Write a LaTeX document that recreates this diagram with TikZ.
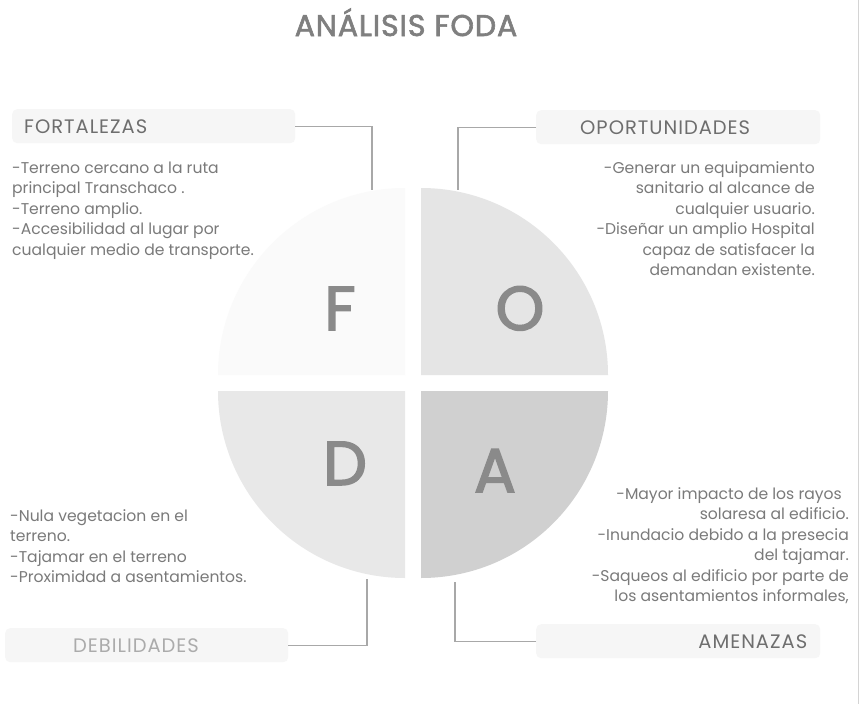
\documentclass[tikz,border=0pt]{standalone}
\usepackage{fontspec}
\setmainfont{Poppins}
\newfontfamily\heavyfont{Poppins}[FakeBold=2.5]
\newfontfamily\titlefont{Poppins}[FakeBold=2, LetterSpace=3]
\newfontfamily\labelfont{Poppins}[LetterSpace=5]
\definecolor{txt}{HTML}{7A7A7A}
\definecolor{lbl}{HTML}{6E6E6E}
\definecolor{lblpale}{HTML}{ABABAB}
\definecolor{ttl}{HTML}{7F7F7F}
\definecolor{let}{HTML}{8A8A8A}
\definecolor{qF}{HTML}{FAFAFA}
\definecolor{qO}{HTML}{E5E5E5}
\definecolor{qD}{HTML}{E8E8E8}
\definecolor{qA}{HTML}{D0D0D0}
\definecolor{boxfill}{HTML}{F6F6F6}
\definecolor{conn}{HTML}{A8A8A8}
\definecolor{frame}{HTML}{D4D4D4}
\begin{document}
\begin{tikzpicture}[x=1pt,y=-1pt,
  labelbox/.style={fill=boxfill, rounded corners=5pt, minimum height=34pt,
    inner ysep=0pt, font=\labelfont\fontsize{19.5}{22}\selectfont, text=lbl},
  body/.style={font=\fontsize{15.6}{20.5}\selectfont, text=txt, inner sep=0pt},
  connector/.style={draw=conn, line width=1.3pt},
  bigletter/.style={font=\heavyfont\fontsize{62}{62}\selectfont, text=let, inner sep=0pt, anchor=base}
]
\useasboundingbox (0,0) rectangle (859,704);
\fill[white] (0,0) rectangle (859,704);
\draw[frame, line width=1pt] (858.5,0) -- (858.5,704);

% title
\node[font=\titlefont\fontsize{30}{30}\selectfont, text=ttl, inner sep=0pt, anchor=base] (title) at (406,36) {ANÁLISIS FODA};

% quadrants
\fill[qF] (405,375) -- (218,375) arc[start angle=180, end angle=90, radius=187pt] -- cycle;
\fill[qO] (421,375) -- (608,375) arc[start angle=0, end angle=90, radius=187pt] -- cycle;
\fill[qD] (405,391) -- (218,391) arc[start angle=180, end angle=270, radius=187pt] -- cycle;
\fill[qA] (421,391) -- (608,391) arc[start angle=0, end angle=-90, radius=187pt] -- cycle;

\node[bigletter] (lF) at (340,330) {F};
\node[bigletter] (lO) at (520,330) {O};
\node[bigletter] (lD) at (345,485) {D};
\node[bigletter] (lA) at (495,492) {A};

% label boxes
\node[labelbox, anchor=north west, text width=259pt, inner xsep=12pt, align=left] (fbox) at (12,109) {FORTALEZAS};
\node[labelbox, anchor=north west, text width=196pt, inner xsep=44pt, align=left] (obox) at (536,110) {OPORTUNIDADES};
\node[labelbox, anchor=north west, text width=147pt, inner xsep=68pt, align=left, text=lblpale] (dbox) at (5,628) {DEBILIDADES};
\node[labelbox, anchor=north west, text width=258pt, inner xsep=13pt, align=right] (abox) at (536,624) {AMENAZAS};

% connectors
\coordinate (fend) at (372,190);
\coordinate (oend) at (458,190);
\coordinate (dend) at (367,579);
\coordinate (aend) at (455,582);
\draw[connector] (fbox.east) -| (fend);
\draw[connector] (obox.west) -| (oend);
\draw[connector] (dbox.east) -| (dend);
\draw[connector] (abox.west) -| (aend);

% body texts
\node[body, anchor=north west, align=left] (ftext) at (12,161.5) {-Terreno cercano a la ruta\\principal Transchaco .\\-Terreno amplio.\\-Accesibilidad al lugar por\\cualquier medio de transporte.};
\node[body, anchor=north east, align=right] (otext) at (815,161) {-Generar un equipamiento\\sanitario al alcance de\\cualquier usuario.\\-Diseñar un amplio Hospital\\capaz de satisfacer la\\demandan existente.};
\node[body, anchor=north west, align=left] (dtext) at (10,509) {-Nula vegetacion en el\\terreno.\\-Tajamar en el terreno\\-Proximidad a asentamientos.};
\node[body, anchor=north east, align=right] (atext) at (849,487) {-Mayor impacto de los rayos\kern7pt\\solaresa al edificio.\\-Inundacio debido a la presecia\\del tajamar.\\-Saqueos al edificio por parte de\\los asentamientos informales,};
\end{tikzpicture}
\end{document}
